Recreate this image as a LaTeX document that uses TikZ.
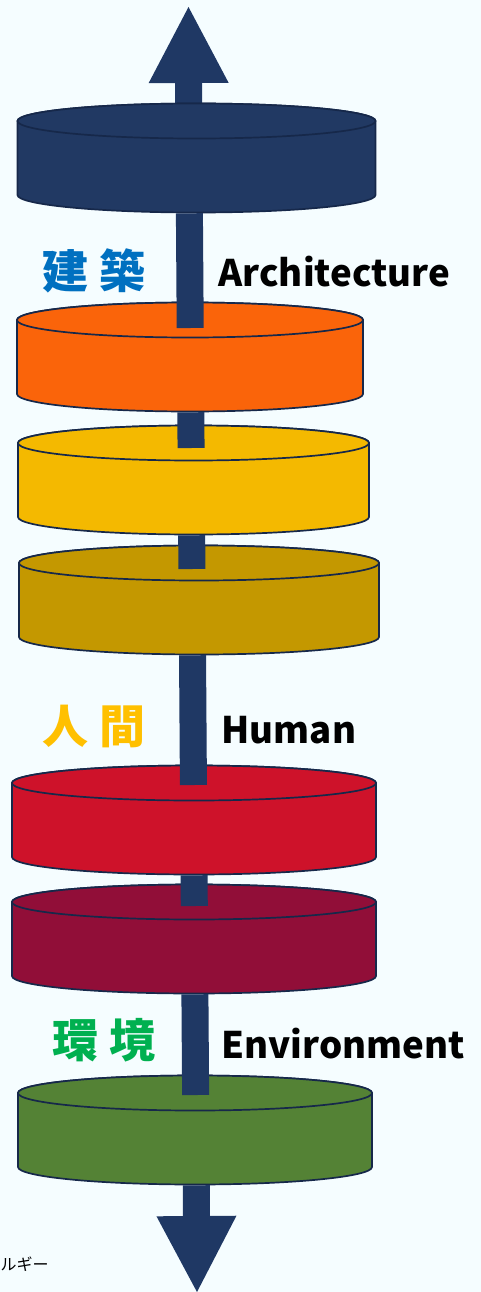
\documentclass[tikz,border=0pt]{standalone}
\usepackage{fontspec}
\setmainfont{Noto Sans CJK JP}
\usepackage{xcolor}
\usetikzlibrary{arrows.meta,positioning,calc}
\definecolor{bgCyan}{RGB}{245,253,255}
\definecolor{axNavy}{RGB}{31,56,100}
\definecolor{rimNavy}{RGB}{22,40,74}
\definecolor{dkNavy}{RGB}{33,57,99}
\definecolor{dkOrange}{RGB}{250,100,10}
\definecolor{dkYellow}{RGB}{244,185,0}
\definecolor{dkGold}{RGB}{196,152,0}
\definecolor{dkRed}{RGB}{206,18,42}
\definecolor{dkMaroon}{RGB}{145,14,56}
\definecolor{dkGreen}{RGB}{84,130,53}
\definecolor{jaBlue}{RGB}{0,112,192}
\definecolor{jaGold}{RGB}{255,192,0}
\definecolor{jaGreen}{RGB}{0,176,80}

\begin{document}
\begin{tikzpicture}[x=1pt,y=1pt,
disk/.style={draw=rimNavy,line width=1.7pt,line join=round},
shaft/.style={draw=axNavy,line width=27pt},
head/.style={-{Triangle[length=76pt,width=80pt,line width=0pt]}},
ja/.style={font=\bfseries\fontsize{46}{50}\selectfont},
en/.style={font=\bfseries\fontsize{36.6}{40}\selectfont,anchor=base west}
]
\useasboundingbox (0,0) rectangle (481,-1292);
\fill[bgCyan] (0,0) rectangle (481,-1292);
% axis x at pixel height y
\def\axx#1{188.5+(#1-85)*0.00705}
% top arrow, behind the first disk
\coordinate (d1-in) at ({\axx{121}},-121);
\coordinate (top) at (188.5,-7);
\draw[shaft,head] (d1-in) -- (top);
% disks: name/cx/rx/top/shaft end/colour
\foreach \n/\cx/\rx/\yt/\yi/\col in {d1/196.5/179/121/121/dkNavy,d2/190/173/320/328/dkOrange,d3/193.5/175.5/443/448/dkYellow,d4/199/180/563/569/dkGold,d5/194/182/783/785/dkRed,d6/194/182/902/906/dkMaroon,d7/195/177/1093/1095/dkGreen}{
\filldraw[disk,fill=\col] (\cx-\rx,-\yt) -- ++(0,-74) arc[start angle=180,end angle=360,x radius=\rx,y radius=17.5] -- ++(0,74) arc[start angle=0,end angle=180,x radius=\rx,y radius=17.5] -- cycle;
\draw[disk,fill=\col] (\cx,-\yt) ellipse[x radius=\rx,y radius=17.5];
\coordinate (\n-in) at ({\axx{\yi}},-\yi);
\coordinate (\n-low) at ({\axx{\yt+92.3}},-\yt-92.3);
}
\foreach \x/\y in {d1/d2,d2/d3,d3/d4,d4/d5,d5/d6,d6/d7}
\draw[shaft] (\x-low) -- (\y-in);
% bottom arrow
\coordinate (bot) at (197,-1292);
\draw[shaft,head] (d7-low) -- (bot);
% labels
\node[ja,text=jaBlue] (archJa) at (94,-271) {建 築};
\node[en] (archEn) at (215,-286) {Architecture};
\node[ja,text=jaGold] (humJa) at (94,-726) {人 間};
\node[en] (humEn) at (218,-743) {Human};
\node[ja,text=jaGreen] (envJa) at (104,-1040) {環 境};
\node[en] (envEn) at (218,-1058) {Environment};
\node[anchor=west,font=\fontsize{16}{18}\selectfont] (energy) at (-3,-1264) {ルギー};
\end{tikzpicture}
\end{document}
